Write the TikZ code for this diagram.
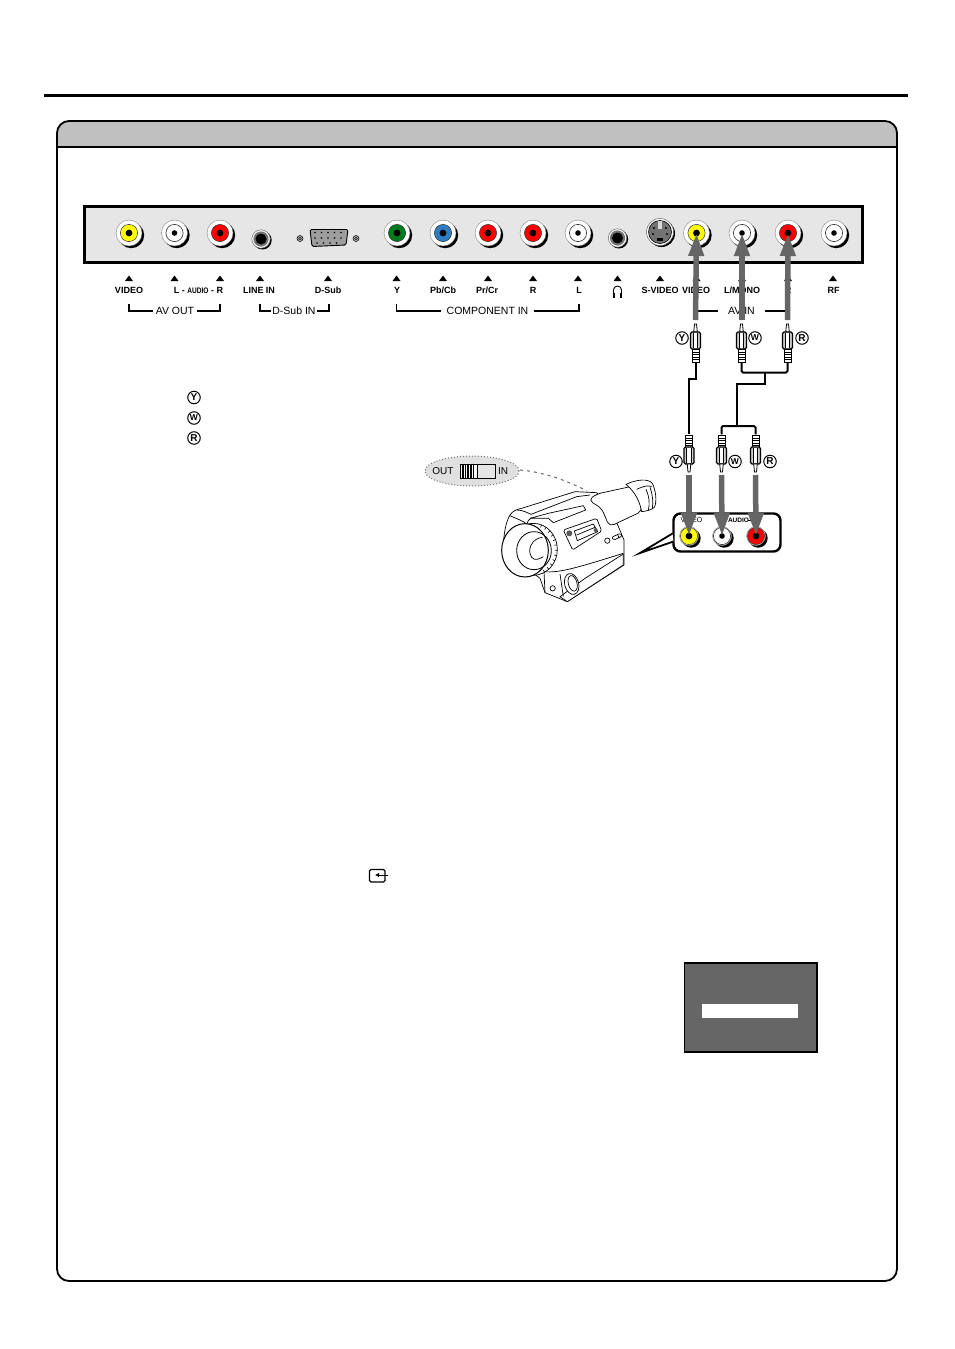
\documentclass[tikz,border=0pt]{standalone}
\usepackage{fontspec}
\setmainfont{Liberation Sans}
\usetikzlibrary{arrows.meta,calc}
\definecolor{panelgray}{HTML}{E6E6E6}
\definecolor{headgray}{HTML}{C0C0C0}
\definecolor{arrowgray}{HTML}{666666}
\definecolor{jyellow}{HTML}{FFFF00}
\definecolor{jred}{HTML}{FF0000}
\definecolor{jgreen}{HTML}{007A1E}
\definecolor{jblue}{HTML}{2E7CC4}
\tikzset{
 lbl/.style={font=\bfseries\fontsize{9}{10}\selectfont,inner sep=0pt},
 grp/.style={font=\fontsize{10.5}{12}\selectfont,inner sep=0pt},
 brk/.style={draw=black,line width=1.1pt},
 brkb/.style={draw=black,line width=1.7pt},
 wire/.style={draw=black,line width=2pt},
 wireb/.style={draw=black,line width=2.8pt},
 bigarrow/.style={draw=arrowgray,line width=5.5pt,-{Triangle[length=23pt,width=14.5pt]},shorten >=0pt},
 circ/.style={circle,draw=black,line width=1pt,inner sep=0pt,minimum size=12.5pt,font=\bfseries\fontsize{10}{10}\selectfont},
 circw/.style={circ,font=\bfseries\fontsize{8.5}{9}\selectfont},
 cam/.style={draw=black,line width=.7pt,fill=white,line join=round},
 camline/.style={draw=black,line width=.7pt,line join=round},
}
% name, x, y, colour of the ring
\newcommand{\rcajack}[5][13]{%
 \fill[black] (#3+2.2,#4+2.2) circle (#1pt);
 \filldraw[fill=white,draw=black!50,line width=.4pt] (#3,#4) circle (#1pt);
 \filldraw[fill=#5,draw=black!80,line width=.5pt] (#3,#4) circle (8.6pt);
 \fill[black] (#3,#4) circle (3.4pt);
 \node[circle,inner sep=0pt,minimum size=6pt] (#2) at (#3,#4) {};
}
\newcommand{\whitejack}[4][13]{%
 \fill[black] (#3+2.2,#4+2.2) circle (#1pt);
 \filldraw[fill=white,draw=black!50,line width=.4pt] (#3,#4) circle (#1pt);
 \draw[black!80,line width=.6pt] (#3,#4) circle (8.6pt);
 \fill[black] (#3,#4) circle (2.8pt);
 \node[circle,inner sep=0pt,minimum size=6pt] (#2) at (#3,#4) {};
}
\newcommand{\minijack}[3]{%
 \fill[black] (#2+1.4,#3+1.2) circle (9.3pt);
 \filldraw[fill=white,draw=black!60,line width=.5pt] (#2,#3) circle (9.2pt);
 \fill[black!55] (#2,#3) circle (7.6pt);
 \node[circle,fill=black,inner sep=0pt,minimum size=11pt] (#1) at (#2,#3) {};
}
\newcommand{\tickmark}[1]{\fill[black] (#1-4,281) -- (#1+4,281) -- (#1,275.5) -- cycle;}
% plug with tip up: name, x, y of the tip
\newcommand{\plugup}[3]{%
 \begin{scope}[shift={(#2,#3)}]
 \filldraw[fill=white,draw=black,line width=.8pt] (-1,0) -- (1,0) -- (1.8,8) -- (-1.8,8) -- cycle;
 \filldraw[fill=black!20,draw=black,line width=1.1pt,rounded corners=1.5pt] (-5,8) rectangle (5,25);
 \fill[white] (-2.2,9) rectangle (2.2,24);
 \draw[black,line width=.8pt] (-2.2,9) -- (-2.2,24) (2.2,9) -- (2.2,24);
 \filldraw[fill=white,draw=black,line width=1pt] (-3.5,25) rectangle (3.5,38);
 \foreach \q in {28,30.5,33,35.5,38} \draw[black,line width=1pt] (-3.5,\q) -- (3.5,\q);
 \node[inner sep=0pt,minimum width=6pt,minimum height=0pt] (#1) at (0,38) {};
 \end{scope}}
% plug with tip down: name, x, y of the wire end
\newcommand{\plugdown}[3]{%
 \begin{scope}[shift={(#2,#3)}]
 \filldraw[fill=white,draw=black,line width=1pt] (-3.5,0) rectangle (3.5,12);
 \foreach \q in {.5,3,5.5,8,10.5} \draw[black,line width=1pt] (-3.5,\q) -- (3.5,\q);
 \filldraw[fill=black!20,draw=black,line width=1.1pt,rounded corners=1.5pt] (-5,12) rectangle (5,29);
 \fill[white] (-2.2,13) rectangle (2.2,28);
 \draw[black,line width=.8pt] (-2.2,13) -- (-2.2,28) (2.2,13) -- (2.2,28);
 \filldraw[fill=white,draw=black,line width=.8pt] (-1.8,29) -- (1.8,29) -- (1,37) -- (-1,37) -- cycle;
 \node[inner sep=0pt,minimum width=6pt] (#1) at (0,0) {};
 \end{scope}}
\begin{document}
\begin{tikzpicture}[x=1pt,y=-1pt]
\useasboundingbox (0,0) rectangle (954,1349);
\fill[white] (0,0) rectangle (954,1349);
% page rule
\draw[black,line width=3pt] (44,95.5) -- (908,95.5);
% frame with header
\fill[headgray,rounded corners=12pt] (57,121) -- (897,121) -- (897,147) -- (57,147) -- cycle;
\fill[headgray] (57,135) rectangle (897,147);
\draw[black,line width=1.8pt] (57,147) -- (897,147);
\draw[black,line width=1.8pt,rounded corners=12pt] (57,121) rectangle (897,1281);
% rear panel
\filldraw[fill=panelgray,draw=black,line width=2.6pt] (84.3,206.5) rectangle (862.7,262.5);
\rcajack{j1}{129}{233}{jyellow}
\whitejack{j2}{174.5}{233}
\rcajack{j3}{220}{233}{jred}
\minijack{j4}{261}{239}
% D-Sub
\filldraw[fill=black!38,draw=black,line width=.9pt,rounded corners=1.5pt] (310,229.5) -- (348,229.5) -- (346,245) -- (312,246.5) -- cycle;
\node[inner sep=0pt,minimum width=30pt,minimum height=10pt] (dsub) at (329,238) {};
\foreach \xx in {314,320.5,327,333.5,340}{\fill[black] (\xx+1,232.5) circle (.8pt);\fill[black] (\xx+1,238) circle (.8pt);}
\foreach \xx in {317,323.5,330,336.5}{\fill[black] (\xx,243) circle (.8pt);}
\foreach \xx in {300,356}{\filldraw[fill=black!35,draw=black,line width=.5pt] (\xx,238.5) circle (3pt);\draw[black,line width=.4pt] (\xx,238.5) circle (1.4pt);}
\rcajack{j5}{397}{233}{jgreen}
\rcajack{j6}{443}{233}{jblue}
\rcajack{j7}{488}{233}{jred}
\rcajack{j8}{533}{233}{jred}
\whitejack{j9}{578}{233}
\minijack{j10}{617.5}{238}
% S-Video
\fill[black] (661.5,233.5) circle (13.5pt);
\filldraw[fill=white,draw=black!60,line width=.5pt] (660,232) circle (13.5pt);
\filldraw[fill=black!55,draw=black,line width=.6pt] (660,232) circle (11.5pt);
\fill[black!15] (658.2,221) rectangle (661.8,229);
\node[circle,inner sep=0pt,minimum size=4pt] (j11) at (660,232) {};
\foreach \a/\b in {654/228,666/228,653/234,667/234}{\fill[black] (\a,\b) circle (1.2pt);}
\fill[black] (657,238) rectangle (663,240.5);
\rcajack{j12}{696.5}{233}{jyellow}
\whitejack{j13}{742}{233}
\rcajack{j14}{788}{233}{jred}
\whitejack{j15}{834}{233}
% tick marks
\foreach \xx in {129,174.5,220,260,328,396.5,443,488,533,578,617.5,660,696.5,742,788,833}{\tickmark{\xx}}
% port labels
\node[lbl] at (129,290.5) {VIDEO};
\node[lbl] at (198.5,290.5) {L - {\fontsize{8}{8}\selectfont\addfontfeature{FakeStretch=0.82}AUDIO} - R};
\node[lbl] at (259,290.5) {LINE IN};
\node[lbl] at (328,290.5) {D-Sub};
\node[lbl] at (397,290.5) {Y};
\node[lbl] at (443,290.5) {Pb/Cb};
\node[lbl] at (487,290.5) {Pr/Cr};
\node[lbl] at (533,290.5) {R};
\node[lbl] at (579,290.5) {L};
\node[lbl] at (660,290.5) {S-VIDEO};
\node[lbl] at (696,290.5) {VIDEO};
\node[lbl] at (742,290.5) {L/MONO};
\node[lbl] at (788,290.5) {R};
\node[lbl] at (833.5,290.5) {RF};
% headphone symbol
\draw[black,line width=.9pt] (613.5,295) -- (613.5,290) arc (180:0:4pt) -- (621.5,295);
\fill[black] (612.7,292.5) rectangle (615,297.5);
\fill[black] (620,292.5) rectangle (622.3,297.5);
% groups
\node[grp] (avout) at (175,311) {AV OUT};
\coordinate (avoutL) at (129,304);
\coordinate (avoutR) at (220,304);
\draw[brk] (avoutL) |- ($(avout.west)+(-3,0)$);
\draw[brk] (avoutR) |- ($(avout.east)+(3,0)$);
\node[grp] (dsubin) at (294,311) {D-Sub IN};
\coordinate (dsubL) at (260,304);
\coordinate (dsubR) at (329,304);
\draw[brkb] (dsubL) |- ($(dsubin.west)+(-1.5,0)$);
\draw[brkb] (dsubR) |- ($(dsubin.east)+(1.5,0)$);
\node[grp] (compin) at (487.5,311) {COMPONENT IN};
\coordinate (compL) at (396.5,304);
\coordinate (compR) at (579,304);
\draw[brkb] (compL) |- ($(compin.west)+(-5,0)$);
\draw[brkb] (compR) |- ($(compin.east)+(5,0)$);
\node[grp] (avin) at (741.5,311) {AV IN};
\coordinate (avinL) at (696.5,304);
\coordinate (avinR) at (787.5,304);
\draw[brkb] (avinL) |- ($(avin.west)+(-10,0)$);
\draw[brkb] (avinR) |- ($(avin.east)+(10,0)$);
% side key
\node[circ] (k1) at (194,397.5) {Y};
\node[circw] (k2) at (194,418) {W};
\node[circ] (k3) at (194,438) {R};
% upper plugs and cable
\plugup{pa}{695.5}{324}
\plugup{pb}{741.5}{324}
\plugup{pc}{787.5}{324}
\node[circ] at (682,338) {Y};
\node[circw] at (755,338) {W};
\node[circ] at (802,338) {R};
% lower plugs
\plugdown{qa}{689}{435}
\plugdown{qb}{721.5}{435}
\plugdown{qc}{755.5}{435}
\node[circ] at (676,461.5) {Y};
\node[circw] at (735,461.5) {W};
\node[circ] at (770,461.5) {R};
% cables
\draw[wire] (pa.south) -- (695.5,378.5) -| (qa.north);
\draw[wire,rounded corners=1.5pt] (pb.south) |- (765,372.5) -| (pc.south);
\draw[wireb] (765,372) -- (765,384) -- (737,384) -- (737,426);
\draw[wire,rounded corners=1.5pt] (qb.north) |- (737,426) -| (qc.north);
% camera jack panel
\filldraw[fill=white,draw=black,line width=2.4pt,rounded corners=7pt] (673.5,513.5) rectangle (780.5,551.5);
\node[inner sep=0pt,font=\fontsize{7}{8}\selectfont] at (691.5,520.5) {VIDEO};
\node[inner sep=0pt,font=\bfseries\fontsize{6.5}{8}\selectfont] at (738.5,520.5) {AUDIO};
\fill[black] (747.5,520) rectangle (751,521);
\rcajack[9.5]{c1}{689}{536}{jyellow}
\whitejack[9.5]{c2}{722}{536}
\rcajack[9.5]{c3}{756}{536}{jred}
% switch bubble
\filldraw[fill=black!12,draw=black!55,line width=1pt,dotted] (472,471) ellipse (47pt and 15pt);
\node[inner sep=0pt,font=\fontsize{10}{11}\selectfont] (tout) at (443,471) {OUT};
\node[inner sep=0pt,font=\fontsize{10}{11}\selectfont] (tin) at (503,471) {IN};
\filldraw[fill=black!10,draw=black,line width=.8pt] (460.5,464) rectangle (495.5,478.5);
\fill[white] (461,464.5) rectangle (477,478);
\foreach \xx in {462,463.6,465.2,466.8,468.4,470,471.6,473.2}{\draw[black,line width=.6pt] (\xx,464) -- (\xx,478.5);}
\draw[black,line width=.9pt] (477,464) -- (477,478.5);
\draw[black!55,line width=1.1pt,dash pattern=on 3pt off 4pt] (520,470) .. controls (545,472) and (570,482) .. (587,491);
% pointer from camera to panel
\filldraw[fill=white,draw=black,line width=1.8pt,line join=miter] (672.5,533.5) -- (640,553) -- (673.5,541.5);
% camcorder, drawn in 3x coordinates
\begin{scope}[shift={(420,450)},x=.33333pt,y=-.33333pt]
 % body
 \path[cam] (250,300) .. controls (250,250) and (258,215) .. (270,195) .. controls (278,183) and (290,178) .. (305,175) -- (465,125) -- (530,128) -- (568,165) -- (612,270) -- (612,345) -- (442,455) -- (375,428) -- (360,385) -- cycle;
 % top details
 \draw[camline] (290,180) .. controls (310,180) and (325,190) .. (333,193);
 \draw[camline] (270,197) .. controls (285,205) and (310,212) .. (320,222);
 \draw[camline] (333,193) -- (470,140) -- (510,135);
 \path[cam] (330,205) -- (385,190) -- (490,167) -- (497,180) -- (400,218) -- (385,205) -- cycle;
 \draw[camline] (320,222) .. controls (325,210) and (330,205) .. (335,203);
 % viewfinder tube
 \path[cam,rounded corners=5pt] (505,150) -- (530,132) -- (640,108) -- (668,183) -- (568,230) -- (545,175) -- cycle;
 % eyepiece
 \path[cam] (618,103) .. controls (650,88) and (685,85) .. (697,100) .. controls (707,120) and (712,155) .. (703,172) .. controls (695,180) and (680,183) .. (665,185) .. controls (660,160) and (650,130) .. (618,103) -- cycle;
 \draw[camline] (650,118) .. controls (672,108) and (685,105) .. (695,110);
 \draw[camline] (678,118) .. controls (688,140) and (690,160) .. (685,180);
 \draw[camline] (690,112) .. controls (698,135) and (700,155) .. (697,175);
 % side panel
 \path[cam,rounded corners=1.5pt] (430,240) -- (530,205) -- (545,243) -- (458,300) -- cycle;
 \draw[camline] (463,243) -- (520,222) -- (533,245) -- (472,272) -- cycle;
 \draw[camline] (470,255) -- (525,232);
 \fill[black!65] (448,250) circle (9);
 \fill[black!65] (527,240) circle (6);
 % buttons
 \draw[camline] (562,272) circle (8);
 \draw[camline,rounded corners=1.2pt] (575,262) -- (600,250) -- (607,258) -- (582,270) -- cycle;
 \draw[camline] (593,254) -- (598,265);
 % lower part
 \draw[camline] (372,365) .. controls (420,370) and (480,350) .. (610,310);
 \draw[camline] (372,365) -- (375,428);
 \path[cam] (495,385) -- (610,312) -- (610,345) -- (442,455) -- (420,440) -- cycle;
 \draw[camline] (420,372) -- (430,440);
 \filldraw[fill=white,draw=black,line width=.7pt,rotate around={15:(455,402)}] (455,402) ellipse (21 and 32);
 \draw[camline,rotate around={15:(458,400)}] (458,400) ellipse (13 and 24);
 \draw[camline] (398,415) circle (8);
 % lens ring
 \filldraw[fill=white,draw=black,line width=.7pt] (340,298) ellipse (72 and 78);
 \foreach \a in {-70,-58,...,70}{\draw[black,line width=.6pt] ($(340,298)+({72*cos(\a)},{78*sin(\a)})$) -- ($(340,298)+({64*cos(\a)},{70*sin(\a)})$);}
 % lens front
 \filldraw[fill=white,draw=black,line width=1pt] (315,301) ellipse (70 and 80);
 \draw[black,line width=.8pt] (342,302) ellipse (52 and 57);
 \draw[black,line width=.7pt] (367,262) .. controls (335,265) and (320,300) .. (335,322) .. controls (345,335) and (360,325) .. (370,320);
\end{scope}
% big arrows over everything
\coordinate (ua) at (695.5,320);
\coordinate (ub) at (742,320);
\coordinate (uc) at (787.5,320);
\draw[bigarrow] (ua) -- (j12.center);
\draw[bigarrow] (ub) -- (j13.center);
\draw[bigarrow] (uc) -- (j14.center);
\coordinate (la) at (689,475);
\coordinate (lb) at (721.5,475);
\coordinate (lc) at (755.5,475);
\draw[bigarrow] (la) -- (c1.center);
\draw[bigarrow] (lb) -- (c2.center);
\draw[bigarrow] (lc) -- (c3.center);
% input key symbol
\draw[black,line width=1.3pt,rounded corners=1.5pt] (369.5,869.5) rectangle (385,882);
\node[inner sep=0pt,minimum size=1pt] (ik) at (389,875) {};
\coordinate (ike) at (375,875);
\draw[black,line width=.9pt,-{Latex[length=4pt,width=4.5pt]}] (ik) -- (ike);
% menu box
\filldraw[fill=arrowgray,draw=black,line width=1.6pt] (684.5,962.8) rectangle (817,1052);
\fill[white] (702,1004) rectangle (798,1018);
\end{tikzpicture}
\end{document}
